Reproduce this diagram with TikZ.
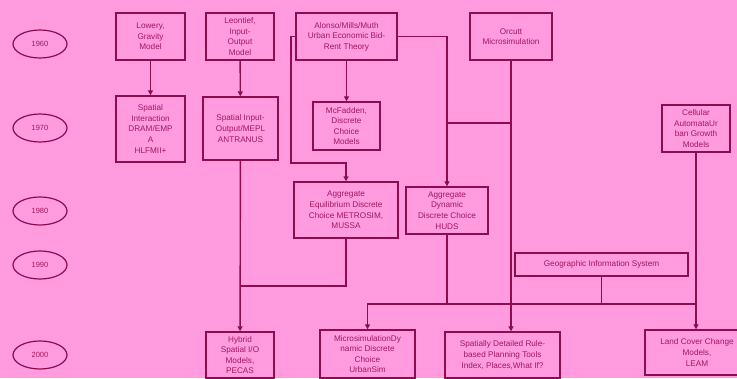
\documentclass[tikz,border=0pt]{standalone}
\usepackage{fontspec}
\setmainfont{Liberation Sans}
\usepackage{tikz}
\usetikzlibrary{arrows.meta,shapes,positioning}
\definecolor{bgpink}{RGB}{255,155,222}
\definecolor{lineclr}{RGB}{140,12,80}
\definecolor{txtclr}{RGB}{160,25,95}
\begin{document}
\begin{tikzpicture}[x=1pt,y=-1pt]
                \tikzstyle{every node}+=[inner sep=0pt]
                \tikzstyle{box}=[draw=lineclr, line width=1.4pt, rectangle, align=center, text=txtclr, font=\fontsize{8.2}{10.6}\selectfont]
                \tikzstyle{year}=[draw=lineclr, line width=1.2pt, ellipse, minimum width=54pt, minimum height=28pt, text=txtclr, font=\fontsize{7.5}{9}\selectfont]
                \tikzstyle{link}=[draw=lineclr, line width=1.4pt]
                \tikzstyle{arr}=[link, -{Triangle[length=5pt,width=5pt]}]
                \fill [bgpink] (0,0) rectangle (737,378);
                \useasboundingbox (0,0) rectangle (737,378);
                \node [year] (y1960) at (40,44) {1960};
                \node [year] (y1970) at (40,128) {1970};
                \node [year] (y1980) at (40,211) {1980};
                \node [year] (y1990) at (40,265) {1990};
                \node [year] (y2000) at (40,355) {2000};
                \node [box, minimum width=69pt, minimum height=47pt] (lowry) at (150.5,36.5) {Lowery,\\Gravity\\Model};
                \node [box, minimum width=68pt, minimum height=47pt] (leontief) at (240,36.5) {Leontief,\\Input-\\Output\\Model};
                \node [box, minimum width=101pt, minimum height=47pt] (alonso) at (346.5,36.5) {Alonso/Mills/Muth\\Urban Economic Bid-\\Rent Theory};
                \node [box, minimum width=82pt, minimum height=47pt] (orcutt) at (511,36.5) {Orcutt\\Microsimulation};
                \node [box, minimum width=69pt, minimum height=66pt] (spint) at (150.5,129) {Spatial\\Interaction\\DRAM/EMP\\A\\HLFMII+};
                \node [box, minimum width=75pt, minimum height=63pt] (spio) at (240.5,128.5) {Spatial Input-\\Output/MEPL\\ANTRANUS};
                \node [box, minimum width=67pt, minimum height=48pt] (mcfadden) at (346.5,126) {McFadden,\\Discrete\\Choice\\Models};
                \node [box, minimum width=68pt, minimum height=47pt] (cellular) at (696,128.5) {Cellular\\AutomataUr\\ban Growth\\Models};
                \node [box, minimum width=104pt, minimum height=56pt] (aggeq) at (346,210) {Aggregate\\Equilibrium Discrete\\Choice METROSIM,\\MUSSA};
                \node [box, minimum width=82pt, minimum height=47pt] (aggdyn) at (447,210.5) {Aggregate\\Dynamic\\Discrete Choice\\HUDS};
                \node [box, minimum width=173pt, minimum height=23pt] (gis) at (601.5,264.5) {Geographic Information System};
                \node [box, minimum width=68pt, minimum height=46pt] (hybrid) at (240,355) {Hybrid\\Spatial I/O\\Models,\\PECAS};
                \node [box, minimum width=95pt, minimum height=48pt] (microsim) at (367.5,354) {MicrosimulationDy\\namic Discrete\\Choice\\UrbanSim};
                \node [box, minimum width=115pt, minimum height=46pt] (spatdet) at (502.5,355) {Spatially Detailed Rule-\\based Planning Tools\\Index, Places,What If?};
                \node [box, minimum width=104pt, minimum height=45pt] (landcover) at (697,352.5) {Land Cover Change\\Models,\\LEAM};
                \coordinate (west) at (291,163);
                \coordinate (orbus) at (0,123);
                \coordinate (eqbus) at (0,286);
                \coordinate (bus) at (0,304);
                \draw [arr] (lowry) -- (spint);
                \draw [arr] (leontief) -- (spio);
                \draw [arr] (spio) -- (hybrid);
                \draw [arr] (alonso) -- (mcfadden);
                \draw [arr] (alonso.west) -| (west) -| (aggeq.north);
                \draw [arr] (alonso.east) -| (aggdyn.north);
                \draw [arr] (orcutt.south) -- (orcutt.south |- spatdet.north);
                \draw [link] (orcutt.south |- orbus) -- (aggdyn.north |- orbus);
                \draw [link] (aggeq.south) |- (spio.south |- eqbus);
                \draw [link] (aggdyn.south) -- (aggdyn.south |- bus);
                \draw [arr] (cellular.south |- bus) -| (microsim.north);
                \draw [link] (gis.south) -- (gis.south |- bus);
                \draw [arr] (cellular.south) -- (cellular.south |- landcover.north);
\end{tikzpicture}
\end{document}
